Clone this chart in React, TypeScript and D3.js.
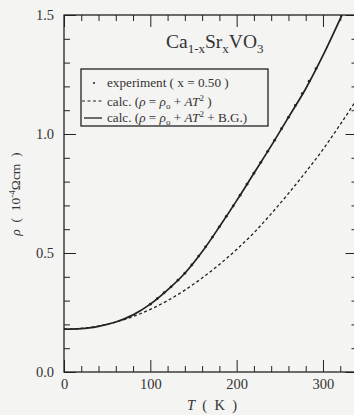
import React, { useEffect, useRef } from 'react';
import * as d3 from 'd3';

const W = 354;
const H = 415;
const FONT = '"Liberation Serif", "Times New Roman", serif';
const INK = '#222222';
const TEXT = '#333333';

// calc. rho = rho0 + A T^2 (dashed)
const tempSimple = [0, 20, 40, 60, 80, 100, 120, 140, 160, 180, 200, 220, 240, 260, 280, 300, 320, 340];
const rhoSimple = [0.18, 0.183, 0.193, 0.21, 0.233, 0.263, 0.3, 0.344, 0.395, 0.452, 0.515, 0.585, 0.665, 0.75, 0.84, 0.935, 1.04, 1.15];

// calc. rho = rho0 + A T^2 + B.G. (solid)
const tempFull = [0, 20, 40, 60, 80, 100, 120, 140, 160, 180, 200, 220, 240, 260, 280, 300, 322];
const rhoFull = [0.18, 0.182, 0.192, 0.21, 0.24, 0.285, 0.345, 0.415, 0.505, 0.61, 0.72, 0.835, 0.95, 1.07, 1.19, 1.33, 1.5];

// experiment (x = 0.50)
const tempExp = [100, 108, 116, 124, 132, 140, 148, 156, 164, 172, 180, 188, 196, 204, 212, 220, 228, 236, 244, 252, 260, 268, 276, 284, 292];
const rhoExp = [0.285, 0.308, 0.333, 0.358, 0.386, 0.415, 0.45, 0.487, 0.526, 0.567, 0.61, 0.654, 0.698, 0.743, 0.789, 0.835, 0.881, 0.927, 0.974, 1.022, 1.07, 1.12, 1.17, 1.222, 1.275];

const xMajor = [0, 100, 200, 300];
const xMinor = [20, 40, 60, 80, 120, 140, 160, 180, 220, 240, 260, 280, 320, 340];
const yMajor = [0, 0.5, 1.0, 1.5];
const yMinor = [0.1, 0.2, 0.3, 0.4, 0.6, 0.7, 0.8, 0.9, 1.1, 1.2, 1.3, 1.4];

export default function App() {
  const gRef = useRef<SVGGElement>(null);

  useEffect(() => {
    const g = d3.select(gRef.current);
    g.selectAll('*').remove();

    const x = d3.scaleLinear().domain([0, 340]).range([64, 357.5]);
    const y = d3.scaleLinear().domain([0, 1.5]).range([372, 15]);
    const [x0, x1] = x.range();
    const [y0, y1] = y.range();

    g.append('clipPath').attr('id', 'plot')
      .append('rect')
      .attr('x', x0).attr('y', y1)
      .attr('width', x1 - x0).attr('height', y0 - y1);

    const addAxis = (gen: any, tx: number, ty: number, labels: boolean) => {
      const a = g.append('g').attr('transform', `translate(${tx},${ty})`).call(gen);
      a.select('.domain').remove();
      a.selectAll('line').attr('stroke', INK).attr('stroke-width', 1);
      if (labels) {
        a.attr('font-family', FONT);
        a.selectAll('text')
          .attr('font-family', FONT)
          .attr('font-size', 14.5)
          .attr('fill', TEXT);
      } else {
        a.selectAll('text').remove();
      }
    };

    addAxis(d3.axisBottom(x).tickValues(xMajor).tickSizeInner(-12).tickSizeOuter(0).tickPadding(7).tickFormat(d3.format('d')), 0, y0, true);
    addAxis(d3.axisBottom(x).tickValues(xMinor).tickSizeInner(-6).tickSizeOuter(0), 0, y0, false);
    addAxis(d3.axisTop(x).tickValues(xMajor).tickSizeInner(-12).tickSizeOuter(0), 0, y1, false);
    addAxis(d3.axisTop(x).tickValues(xMinor).tickSizeInner(-6).tickSizeOuter(0), 0, y1, false);
    addAxis(d3.axisLeft(y).tickValues(yMajor).tickSizeInner(-12).tickSizeOuter(0).tickPadding(10).tickFormat(d3.format('.1f')), x0, 0, true);
    addAxis(d3.axisLeft(y).tickValues(yMinor).tickSizeInner(-6).tickSizeOuter(0), x0, 0, false);
    addAxis(d3.axisRight(y).tickValues(yMajor).tickSizeInner(-12).tickSizeOuter(0), x1, 0, false);
    addAxis(d3.axisRight(y).tickValues(yMinor).tickSizeInner(-6).tickSizeOuter(0), x1, 0, false);

    // frame
    g.append('rect')
      .attr('x', x0).attr('y', y1)
      .attr('width', x1 - x0).attr('height', y0 - y1)
      .attr('fill', 'none')
      .attr('stroke', INK)
      .attr('stroke-width', 1.3);

    const plot = g.append('g').attr('clip-path', 'url(#plot)');

    const lineOf = (temps: number[]) => d3.line<number>()
      .x((_, i) => x(temps[i]))
      .y((d) => y(d))
      .curve(d3.curveMonotoneX);

    plot.append('path')
      .attr('d', lineOf(tempSimple)(rhoSimple))
      .attr('fill', 'none')
      .attr('stroke', INK)
      .attr('stroke-width', 1.3)
      .attr('stroke-dasharray', '3 2.5');

    plot.append('path')
      .attr('d', lineOf(tempFull)(rhoFull))
      .attr('fill', 'none')
      .attr('stroke', INK)
      .attr('stroke-width', 1.7);

    plot.selectAll('.exp')
      .data(rhoExp)
      .enter()
      .append('circle')
      .attr('cx', (_, i) => x(tempExp[i]))
      .attr('cy', (d) => y(d))
      .attr('r', 1.4)
      .attr('fill', INK);
  }, []);

  return (
    <svg width={W} height={H} style={{ position: 'absolute', left: 0, top: 0, background: '#f4f4f2' }}>
      <g ref={gRef} />
      <text x={166} y={48} fontFamily={FONT} fontSize={19.5} fill={TEXT}>
        Ca<tspan dy={5} fontSize={13}>1-x</tspan>
        <tspan dy={-5}>Sr</tspan><tspan dy={5} fontSize={13}>x</tspan>
        <tspan dy={-5}>VO</tspan><tspan dy={5} fontSize={13}>3</tspan>
      </text>
      <rect x={81} y={69} width={187} height={57} fill="none" stroke={INK} strokeWidth={1.3} />
      <g fontFamily={FONT} fontSize={13.2} fill={TEXT}>
        <circle cx={94} cy={83} r={1} fill={INK} />
        <text x={107} y={87}>experiment ( x = 0.50 )</text>
        <line x1={82} x2={104} y1={101} y2={101} stroke={INK} strokeWidth={1} strokeDasharray="3 2.5" />
        <text x={107} y={105.5}>
          calc. (<tspan fontStyle="italic">ρ</tspan> = <tspan fontStyle="italic">ρ</tspan><tspan dy={3} fontSize={9}>o</tspan><tspan dy={-3}> + </tspan><tspan fontStyle="italic">AT</tspan><tspan dy={-5} fontSize={9}>2</tspan><tspan dy={5}> )</tspan>
        </text>
        <line x1={84} x2={102} y1={118} y2={118} stroke={INK} strokeWidth={1.3} />
        <text x={107} y={122}>
          calc. (<tspan fontStyle="italic">ρ</tspan> = <tspan fontStyle="italic">ρ</tspan><tspan dy={3} fontSize={9}>o</tspan><tspan dy={-3}> + </tspan><tspan fontStyle="italic">AT</tspan><tspan dy={-5} fontSize={9}>2</tspan><tspan dy={5}> + B.G.)</tspan>
        </text>
      </g>
      <text x={212} y={410} textAnchor="middle" fontFamily={FONT} fontSize={14.5} fill={TEXT} style={{ whiteSpace: 'pre' }}>
        <tspan fontStyle="italic">T</tspan>{'  (  K  )'}
      </text>
      <text transform="translate(20,194) rotate(-90)" textAnchor="middle" fontFamily={FONT} fontSize={13.5} fill={TEXT} style={{ whiteSpace: 'pre' }}>
        <tspan fontStyle="italic">ρ</tspan>{'  (  10'}<tspan dy={-5} fontSize={9}>-4</tspan><tspan dy={5}>{'Ωcm  )'}</tspan>
      </text>
    </svg>
  );
}
